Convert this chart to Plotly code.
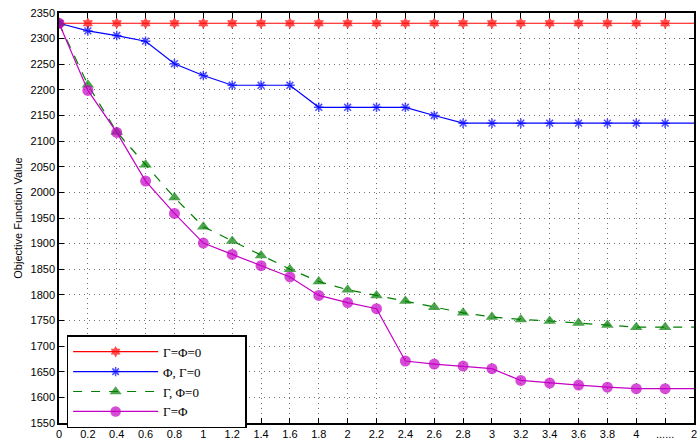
import plotly.graph_objects as go

# x positions are tick indices; the last two ticks are a gap marker and the final setting
tick_labels = ["0", "0.2", "0.4", "0.6", "0.8", "1", "1.2", "1.4", "1.6", "1.8", "2",
               "2.2", "2.4", "2.6", "2.8", "3", "3.2", "3.4", "3.6", "3.8", "4", "......", "2"]
x_pos = list(range(len(tick_labels)))

gamma_phi_zero = [2330] * 23
phi_gamma_zero = [2330, 2315, 2306, 2295, 2251, 2228, 2209, 2209, 2209, 2166, 2166, 2166,
                  2166, 2150, 2135, 2135, 2135, 2135, 2135, 2135, 2135, 2135, 2135]
gamma_phi0 = [2330, 2210, 2118, 2054, 1990, 1933, 1905, 1877, 1850, 1826, 1810, 1799,
              1788, 1776, 1765, 1757, 1752, 1749, 1745, 1741, 1737, 1737, 1737]
gamma_eq_phi = [2330, 2199, 2117, 2022, 1959, 1901, 1879, 1857, 1835, 1799, 1785, 1773,
                1671, 1665, 1661, 1656, 1633, 1628, 1624, 1620, 1617, 1617, 1617]

series = [
    ("Γ=Φ=0", gamma_phi_zero, "#ff0000", "hexagram", 9, "solid"),
    ("Φ, Γ=0", phi_gamma_zero, "#0000ff", "asterisk-open", 8, "solid"),
    ("Γ, Φ=0", gamma_phi0, "#007f00", "triangle-up", 11, "dash"),
    ("Γ=Φ", gamma_eq_phi, "#c400c4", "circle", 11, "solid"),
]

# blank space kept at the right of the legend box
legend_pad = "\u00a0" * 12

fig = go.Figure()
for name, ys, color, symbol, size, dash in series:
    sizes = [size] * (len(ys) - 1) + [0]
    fig.add_trace(go.Scatter(
        x=x_pos, y=ys, name=name + (legend_pad if name == "Φ, Γ=0" else ""),
        mode="lines+markers",
        line=dict(color=color, width=1.2, dash=dash),
        marker=dict(symbol=symbol, size=sizes, color=color,
                    line=dict(color=color, width=1.5 if symbol == "asterisk-open" else 0)),
    ))

axis_common = dict(
    showline=True, linecolor="black", linewidth=1.5, mirror="ticks",
    ticks="inside", ticklen=5, tickcolor="black", tickwidth=1,
    showgrid=True, gridcolor="rgba(0,0,0,0.55)", griddash="1px,4px", gridwidth=1,
    zeroline=False, tickfont=dict(family="Liberation Sans, Arial", size=11, color="black"),
)

fig.update_xaxes(range=[0, 22], tickmode="array", tickvals=x_pos, ticktext=tick_labels,
                 ticklabeloverflow="allow", **axis_common)
fig.update_yaxes(range=[1550, 2350], dtick=50, tick0=1550,
                 title=dict(text="Objective Function Value", standoff=6,
                            font=dict(family="Liberation Sans, Arial", size=11, color="black")),
                 **axis_common)

fig.update_layout(
    width=700, height=443,
    margin=dict(l=59, r=3, t=13, b=16),
    plot_bgcolor="white", paper_bgcolor="white",
    legend=dict(
        x=0.012, y=0.214, xanchor="left", yanchor="top",
        bgcolor="white", bordercolor="black", borderwidth=1.5,
        font=dict(family="Liberation Serif, Times New Roman", size=13, color="black"),
        itemwidth=85, tracegroupgap=0,
    ),
    showlegend=True,
)

fig.write_html("out.html")
